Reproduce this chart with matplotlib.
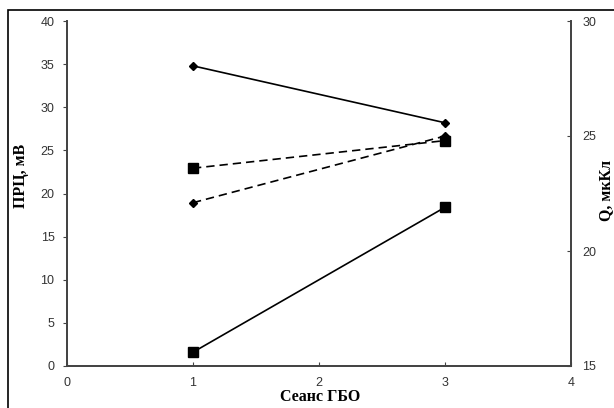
import matplotlib.pyplot as plt
from matplotlib.patches import Rectangle

# Data
sessions = [1, 3]
prc_diamond = [34.8, 28.2]   # ПРЦ, left axis
prc_square = [1.6, 18.4]
q_square = [23.6, 24.8]      # Q, right axis
q_diamond = [22.1, 25.0]

axis_col = '#444444'
tick_font = {'family': 'Liberation Sans', 'size': 9, 'color': '#333333'}
label_font = {'family': 'Liberation Serif', 'size': 11.5, 'weight': 'bold'}

fig = plt.figure(figsize=(6.14, 4.08), dpi=100)
ax = fig.add_axes([67 / 614, 1 - 366 / 408, (571 - 67) / 614, (366 - 21) / 408])
ax2 = ax.twinx()

ax.plot(sessions, prc_diamond, color='black', lw=1.2, marker='D', ms=4.5)
ax.plot(sessions, prc_square, color='black', lw=1.2, marker='s', ms=6.5)
ax2.plot(sessions, q_square, color='black', lw=1.2, ls=(0, (5, 3)), marker='s', ms=6.5)
ax2.plot(sessions, q_diamond, color='black', lw=1.2, ls=(0, (5, 3)), marker='D', ms=4.5)

ax.set_xlim(0, 4)
ax.set_ylim(0, 40)
ax2.set_ylim(15, 30)
ax.set_xticks(range(0, 5))
ax.set_yticks(range(0, 41, 5))
ax2.set_yticks(range(15, 31, 5))

for a in (ax, ax2):
    a.spines['top'].set_visible(False)
    for s in ('left', 'right', 'bottom'):
        a.spines[s].set_color(axis_col)
        a.spines[s].set_linewidth(1.3)
    a.patch.set_visible(False)

ax.tick_params(axis='x', direction='in', length=3, color=axis_col, pad=8)
ax.tick_params(axis='y', direction='out', length=3, color=axis_col, pad=6)
ax2.tick_params(axis='y', direction='in', length=3, color=axis_col, pad=8)
for lbl in ax.get_xticklabels() + ax.get_yticklabels() + ax2.get_yticklabels():
    lbl.set_fontfamily(tick_font['family'])
    lbl.set_fontsize(tick_font['size'])
    lbl.set_color(tick_font['color'])

fig.text(320 / 614, 1 - 397 / 408, 'Сеанс ГБО', ha='center', va='center', fontdict=label_font)
fig.text(21 / 614, 1 - 176 / 408, 'ПРЦ, мВ', rotation=90, ha='center', va='center',
         fontdict=label_font)
fig.text(606 / 614, 1 - 190 / 408, 'Q, мкКл', rotation=90, ha='center', va='center',
         fontdict=label_font)

# outer frame of the original figure (cut off at right and bottom)
fig.patches.append(Rectangle((8 / 614, -0.05), 1.1, 1.05 - 10 / 408,
                             transform=fig.transFigure, fill=False,
                             edgecolor='black', lw=1.2))

fig.savefig('out.png', dpi=100)
